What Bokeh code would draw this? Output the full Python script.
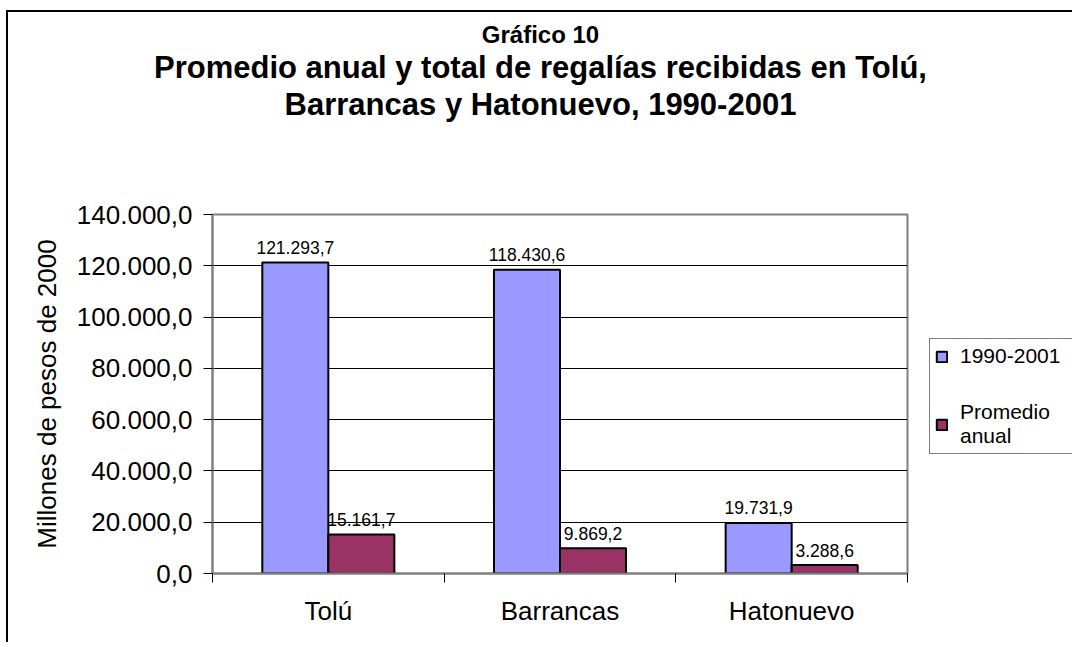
from bokeh.plotting import figure
from bokeh.layouts import row, column
from bokeh.models import (ColumnDataSource, Range1d, FixedTicker, Legend, LegendItem, Title)
from bokeh.transform import dodge
from bokeh.core.properties import value
from bokeh.embed import file_html
from bokeh.resources import INLINE

# ---------------- data ----------------
categories = ["Tolú", "Barrancas", "Hatonuevo"]
total_1990_2001 = [121293.7, 118430.6, 19731.9]
promedio_anual = [15161.7, 9869.2, 3288.6]
series_names = ["1990-2001", "Promedio\nanual"]
y_ticks = [0, 20000, 40000, 60000, 80000, 100000, 120000, 140000]
y_tick_labels = ["0,0", "20.000,0", "40.000,0", "60.000,0", "80.000,0",
                 "100.000,0", "120.000,0", "140.000,0"]
title_lines = ["Gráfico 10",
               "Promedio anual y total de regalías recibidas en Tolú,",
               "Barrancas y Hatonuevo, 1990-2001"]
y_axis_label = "Millones de pesos de 2000"


def fmt_es(v):
    s = f"{v:,.1f}"
    return s.replace(",", "_").replace(".", ",").replace("_", ".")


FONT = "Liberation Sans"
BLUE = "#9999FF"
MAROON = "#993366"
BAR_W = 0.285

# ---------------- title strip ----------------
TW, TH = 1060, 180
tp = figure(width=TW, height=TH, x_range=Range1d(0, 1), y_range=Range1d(0, 1),
            x_axis_type=None, y_axis_type=None, output_backend="svg",
            toolbar_location=None, min_border_left=4, min_border_right=0,
            min_border_top=109, min_border_bottom=0, outline_line_color=None,
            background_fill_color="white", border_fill_color="white")
tp.title.text = title_lines[0]
title_sizes = ["24px", "31px", "31px"]
for i, t in enumerate([tp.title] + [Title() for _ in range(2)]):
    idx = 0 if i == 0 else 3 - i
    if i > 0:
        t.text = title_lines[idx]
    t.align = "center"
    t.text_font = FONT
    t.text_font_size = title_sizes[idx]
    t.text_font_style = "bold"
    t.text_color = "black"
    t.standoff = 0
    if i > 0:
        tp.add_layout(t, "above")

# ---------------- chart ----------------
PW, PH = 909, 450
FL, FT, FR, FB = 204, 22, 899, 381   # frame edges on this canvas

centers = [i + 0.5 for i in range(len(categories))]
src = ColumnDataSource(dict(
    x=centers,
    cat=categories,
    total=total_1990_2001,
    prom=promedio_anual,
    total_lbl=[fmt_es(v) for v in total_1990_2001],
    prom_lbl=[fmt_es(v) for v in promedio_anual],
))

p = figure(width=PW, height=PH,
           x_range=Range1d(0, len(categories)), y_range=Range1d(0, 140000),
           output_backend="svg", toolbar_location=None,
           min_border_left=FL, min_border_right=PW - FR,
           min_border_top=FT, min_border_bottom=PH - FB,
           background_fill_color="white", border_fill_color="white")

r1 = p.vbar(x=dodge("x", -BAR_W / 2, range=p.x_range), top="total", width=BAR_W,
            source=src, fill_color=BLUE, line_color="black", line_width=2)
r2 = p.vbar(x=dodge("x", BAR_W / 2, range=p.x_range), top="prom", width=BAR_W,
            source=src, fill_color=MAROON, line_color="black", line_width=2)

for col, lbl, off in [("total", "total_lbl", -BAR_W / 2), ("prom", "prom_lbl", BAR_W / 2)]:
    p.text(x=dodge("x", off, range=p.x_range), y=col, text=lbl,
           source=src, text_align="center", text_baseline="alphabetic", y_offset=-15,
           text_font=value(FONT), text_font_size="17.5px", text_color="black")

p.outline_line_color = "#808080"
p.outline_line_width = 2
p.xgrid.visible = False
p.ygrid.ticker = FixedTicker(ticks=y_ticks)
p.ygrid.grid_line_color = "black"
p.ygrid.grid_line_width = 1

ya = p.yaxis[0]
ya.ticker = FixedTicker(ticks=y_ticks)
ya.major_label_overrides = {t: l for t, l in zip(y_ticks, y_tick_labels)}
ya.axis_line_color = "#808080"
ya.axis_line_width = 2
ya.major_tick_in = 0
ya.major_tick_out = 9
ya.major_tick_line_color = "black"
ya.minor_tick_line_color = None
ya.major_label_standoff = 11
ya.major_label_text_font = FONT
ya.major_label_text_font_size = "26px"
ya.major_label_text_color = "black"
ya.axis_label = y_axis_label
ya.axis_label_text_font = FONT
ya.axis_label_text_font_size = "26px"
ya.axis_label_text_font_style = "normal"
ya.axis_label_text_color = "black"
ya.axis_label_standoff = 12

xa = p.xaxis[0]
xa.ticker = FixedTicker(ticks=centers, minor_ticks=list(range(len(categories) + 1)))
xa.major_label_overrides = {c: n for c, n in zip(centers, categories)}
xa.axis_line_color = "#808080"
xa.axis_line_width = 2
xa.major_tick_in = 0
xa.major_tick_out = 0
xa.minor_tick_in = 0
xa.minor_tick_out = 9
xa.minor_tick_line_color = "black"
xa.major_label_standoff = 13
xa.major_label_text_font = FONT
xa.major_label_text_font_size = "26px"
xa.major_label_text_color = "black"

# ---------------- legend strip ----------------
# (its frame is aligned with the chart's frame by the row layout; the key
#  renderers use the same data, squeezed into a speck hidden behind the legend box)
LW = 155
lp = figure(width=LW, height=PH, x_range=Range1d(-30, 40), y_range=Range1d(-4.8e8, 5.2e8),
            x_axis_type=None, y_axis_type=None, output_backend="svg",
            toolbar_location=None, min_border=0, outline_line_color=None,
            background_fill_color="white", border_fill_color="white")
k1 = lp.vbar(x="x", top="total", width=BAR_W, source=src,
             fill_color=BLUE, line_color="black", line_width=2)
k2 = lp.vbar(x="x", top="prom", width=BAR_W, source=src,
             fill_color=MAROON, line_color="black", line_width=2)
legend = Legend(items=[LegendItem(label=series_names[0], renderers=[k1], index=0),
                       LegendItem(label=series_names[1], renderers=[k2], index=0)],
                location=(12, 119), padding=5, spacing=32,
                glyph_width=13, glyph_height=13, label_standoff=12,
                label_width=150,
                label_text_font=FONT, label_text_font_size="21px",
                label_text_color="black",
                border_line_color="black", border_line_width=1,
                background_fill_color="white", background_fill_alpha=1)
lp.add_layout(legend)

layout = column(tp, row(p, lp))
layout.styles = {"margin-left": "6px", "margin-top": "10px",
                 "border-left": "2px solid black", "border-top": "2px solid black"}

open("out.html", "w").write(file_html(layout, INLINE))
